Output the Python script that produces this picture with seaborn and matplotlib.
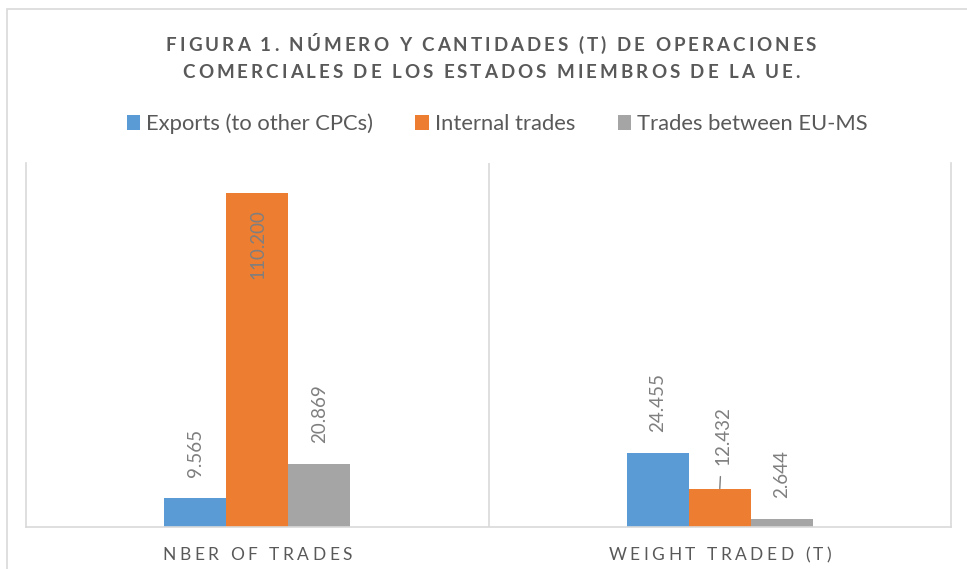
import matplotlib
matplotlib.use("Agg")
import matplotlib.pyplot as plt
from matplotlib.font_manager import FontProperties
from matplotlib.patches import Rectangle
import seaborn as sns
import pandas as pd

# ---- data ----
categories = ["NBER OF TRADES", "WEIGHT TRADED (T)"]
series = ["Exports (to other CPCs)", "Internal trades", "Trades between EU-MS"]
exports = [9565, 24455]
internal = [110200, 12432]
between = [20869, 2644]
title_lines = ["FIGURA 1. NÚMERO Y CANTIDADES (T) DE OPERACIONES",
               "COMERCIALES DE LOS ESTADOS MIEMBROS DE LA UE."]
colors = ["#5B9BD5", "#ED7D31", "#A5A5A5"]

rows = []
for s, vals in zip(series, [exports, internal, between]):
    for c, v in zip(categories, vals):
        rows.append({"cat": c, "series": s, "value": v})
df = pd.DataFrame(rows)

sns.set_theme(style="white")
plt.rcParams["font.family"] = ["Lato", "DejaVu Sans"]

W, H = 967, 569
fig = plt.figure(figsize=(W / 100, H / 100), dpi=100)
ax = fig.add_axes([26 / W, 1 - 527 / H, (951 - 26) / W, (527 - 163) / H])

sns.barplot(data=df, x="cat", y="value", hue="series", order=categories,
            hue_order=series, palette=colors, width=0.403, saturation=1,
            linewidth=0, ax=ax)

handles, labels = ax.get_legend_handles_labels()
if ax.get_legend() is not None:
    ax.get_legend().remove()

ax.set_xlim(-0.5, 1.5)
ax.set_ylim(0, 120000)
ax.set_xticks([])
ax.set_yticks([])
ax.set_xlabel("")
ax.set_ylabel("")
grid_c = "#D9D9D9"
for side in ["left", "right", "bottom"]:
    ax.spines[side].set_color(grid_c)
    ax.spines[side].set_linewidth(1.2)
ax.spines["top"].set_visible(False)
ax.axvline(0.5, color=grid_c, lw=1.2, zorder=0)

# ---- bar labels ----
lab_c = "#7F7F7F"
def fmt(v):
    return f"{v:,.0f}".replace(",", ".")

for ci, cont in enumerate(ax.containers):
    for bi, bar in enumerate(cont):
        h = bar.get_height()
        x = bar.get_x() + bar.get_width() / 2
        txt = fmt(h)
        if ci == 1 and bi == 0:
            ax.annotate(txt, xy=(x, h), xytext=(0.5, -12), textcoords="offset points",
                        rotation=90, ha="center", va="top", color=lab_c, fontsize=13.5)
        elif ci == 1 and bi == 1:
            ax.annotate(txt, xy=(x, h), xytext=(2, 17.5), textcoords="offset points",
                        rotation=90, ha="center", va="bottom", color=lab_c, fontsize=13.5,
                        arrowprops=dict(arrowstyle="-", color=lab_c, lw=1,
                                        shrinkA=6, shrinkB=0.5))
        else:
            ax.annotate(txt, xy=(x, h), xytext=(0, 15), textcoords="offset points",
                        rotation=90, ha="center", va="bottom", color=lab_c, fontsize=13.5)

# ---- legend ----
fig.legend(handles, labels, loc="center", bbox_to_anchor=(497 / W, 1 - 124 / H),
           ncol=3, frameon=False, fontsize=15.8, handlelength=0.62, handleheight=0.62,
           handletextpad=0.25, columnspacing=1.95, labelcolor="#595959")

# ---- letter-spaced texts ----
def spaced_text(s, cx, base, size, weight, color, track):
    renderer = fig.canvas.get_renderer()
    fp = FontProperties(family=["Lato", "DejaVu Sans"], size=size, weight=weight)
    widths = [renderer.get_text_width_height_descent(c, fp, ismath=False)[0] for c in s]
    total = sum(widths) + track * (len(s) - 1)
    x = cx - total / 2
    for c, w in zip(s, widths):
        fig.text(x / W, 1 - base / H, c, fontproperties=fp, color=color,
                 ha="left", va="baseline")
        x += w + track

text_c = "#595959"
spaced_text(title_lines[0], 491, 51, 13.5, "bold", text_c, 3.0)
spaced_text(title_lines[1], 491, 78, 13.5, "bold", text_c, 3.0)

for i, c in enumerate(categories):
    px = ax.transData.transform((i, 0))[0]
    spaced_text(c, px, 560, 12.5, "normal", text_c, 3.5)

# outer chart border
fig.patches.append(Rectangle((7 / W, -0.1), (966 - 7) / W + 0.1, 1.1 - 9 / H,
                             transform=fig.transFigure, fill=False,
                             edgecolor=grid_c, lw=1.2))

fig.savefig("out.png", dpi=100)
